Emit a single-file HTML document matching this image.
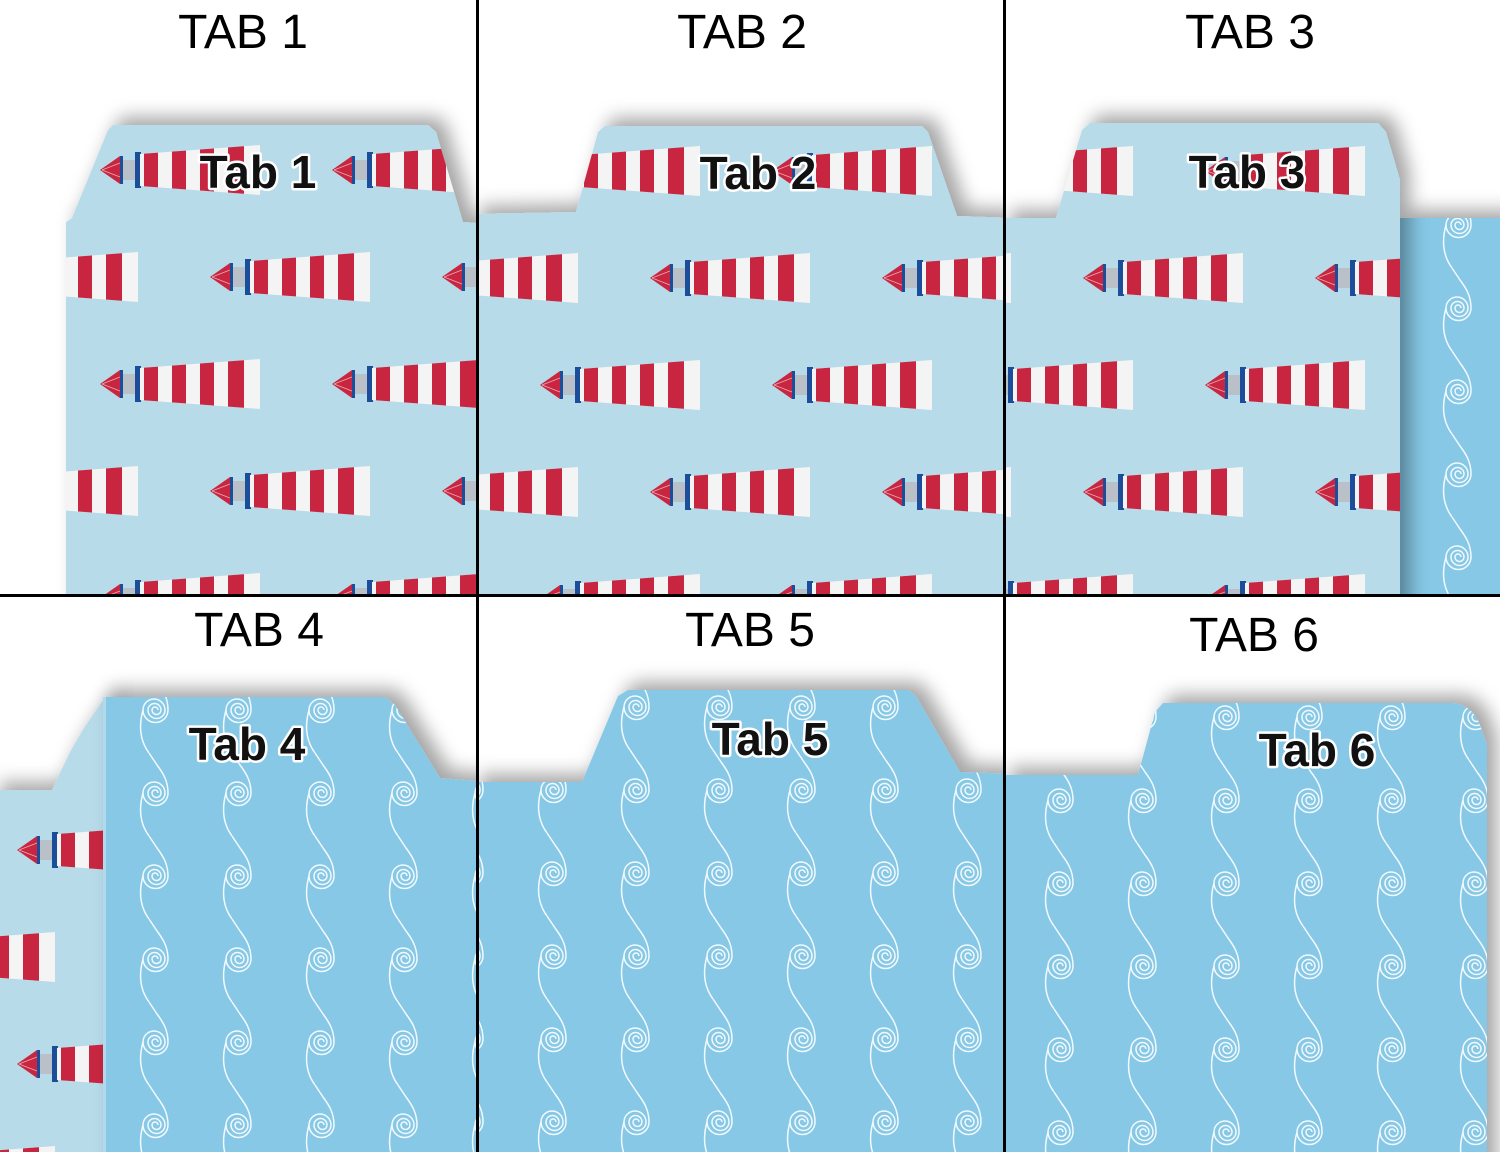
<!DOCTYPE html>
<html><head><meta charset="utf-8"><style>html,body{margin:0;padding:0;background:#fff}svg{display:block}</style></head><body>
<svg width="1500" height="1152" viewBox="0 0 1500 1152" xmlns="http://www.w3.org/2000/svg">
<defs>
<clipPath id="tw"><polygon points="40,-16 160,-25 160,25 40,16"/></clipPath>
<g id="lh">
 <polygon points="0,0 20,-14 20,14" fill="#c8283f"/>
 <line x1="2" y1="0" x2="20" y2="-7" stroke="#fff" stroke-width="0.8" opacity=".6"/>
 <line x1="2" y1="0" x2="20" y2="7" stroke="#fff" stroke-width="0.8" opacity=".6"/>
 <rect x="20" y="-14" width="3" height="28" fill="#1f4e9a"/>
 <rect x="23" y="-10" width="12" height="20" fill="#b9c0c8"/>
 <rect x="35" y="-18" width="6" height="36" fill="#1f4e9a"/>
 <g clip-path="url(#tw)">
  <rect x="40" y="-30" width="120" height="60" fill="#f4f4f4"/>
  <rect x="44" y="-30" width="14" height="60" fill="#c8283f"/>
  <rect x="72" y="-30" width="14" height="60" fill="#c8283f"/>
  <rect x="100" y="-30" width="14" height="60" fill="#c8283f"/>
  <rect x="128" y="-30" width="16" height="60" fill="#c8283f"/>
 </g>
</g>
<g id="lhtile">
 <rect width="232" height="214" fill="#b7dbe9"/>
 <use href="#lh" x="10" y="30"/>
 <use href="#lh" x="120" y="137"/>
 <use href="#lh" x="-112" y="137"/>
</g>
<pattern id="p1" patternUnits="userSpaceOnUse" width="232" height="214" x="90" y="140"><use href="#lhtile"/></pattern>
<pattern id="p2" patternUnits="userSpaceOnUse" width="232" height="214" x="530" y="355"><use href="#lhtile"/></pattern>
<pattern id="p3" patternUnits="userSpaceOnUse" width="232" height="214" x="1195" y="355"><use href="#lhtile"/></pattern>
<pattern id="p4" patternUnits="userSpaceOnUse" width="232" height="214" x="7" y="820"><use href="#lhtile"/></pattern>
<g id="wtile">
 <rect width="83" height="83" fill="#86c8e6"/>
 <g fill="none" stroke="#fff" stroke-width="1.5" opacity=".9">
  <path d="M23,40 A3,3 0 0 0 17,40 A4.5,4.5 0 0 0 26,40 A6.5,6.5 0 0 0 13,40 A8.5,8.5 0 0 0 30,40 A11,11 0 0 0 8,40 A12.5,12.5 0 0 0 33,40 C33,28 28,20 22,12 C18,6 16,3 14,0"/>
  <path d="M14,83 C6,72 3,58 8,40"/>
 </g>
</g>
<pattern id="w4" patternUnits="userSpaceOnUse" width="83" height="83" x="135" y="670"><use href="#wtile"/></pattern>
<pattern id="w5" patternUnits="userSpaceOnUse" width="83" height="83" x="533" y="750"><use href="#wtile"/></pattern>
<pattern id="w6" patternUnits="userSpaceOnUse" width="83" height="83" x="1040" y="760"><use href="#wtile"/></pattern>
<pattern id="w3" patternUnits="userSpaceOnUse" width="83" height="83" x="1438" y="185"><use href="#wtile"/></pattern>
<filter id="sh" x="-20%" y="-30%" width="140%" height="160%"><feDropShadow dx="10" dy="-8" stdDeviation="9" flood-color="#000" flood-opacity=".35"/></filter>
<clipPath id="c1"><rect x="0" y="0" width="477" height="596"/></clipPath>
<clipPath id="c2"><rect x="478" y="0" width="527" height="596"/></clipPath>
<clipPath id="c3"><rect x="1006" y="0" width="494" height="596"/></clipPath>
<clipPath id="c4"><rect x="0" y="597" width="477" height="555"/></clipPath>
<clipPath id="c5"><rect x="478" y="597" width="527" height="555"/></clipPath>
<clipPath id="c6"><rect x="1006" y="597" width="494" height="555"/></clipPath>
</defs>
<rect width="1500" height="1152" fill="#fff"/>

<g clip-path="url(#c1)">
 <path filter="url(#sh)" d="M66,222 L72,218 L108,130 L113,125 L428,125 L436,132 L463,222 L490,224 L490,700 L66,700 Z" fill="url(#p1)"/>
</g>
<g clip-path="url(#c2)">
 <path filter="url(#sh)" d="M470,214 L576,212 L598,132 L605,126 L922,126 L928,132 L957,216 L1015,218 L1015,700 L470,700 Z" fill="url(#p2)"/>
</g>
<g clip-path="url(#c3)">
 <path filter="url(#sh)" d="M1398,218 L1510,218 L1510,700 L1398,700 Z" fill="url(#w3)"/>
 <path filter="url(#sh)" d="M1000,218 L1056,218 L1082,130 L1090,123 L1378,123 L1386,132 L1400,180 L1400,700 L1000,700 Z" fill="url(#p3)"/>
</g>
<g clip-path="url(#c4)">
 <path filter="url(#sh)" d="M-10,790 L52,790 L70,752 L84,728 L103,700 L110,700 L110,1200 L-10,1200 Z" fill="url(#p4)"/>
 <path filter="url(#sh)" d="M103,697 L385,697 L395,705 L440,778 L490,782 L490,1200 L103,1200 Z" fill="url(#w4)"/>
 <rect x="103" y="697" width="3" height="460" fill="#cfe6f0" opacity=".6"/>
</g>
<g clip-path="url(#c5)">
 <path filter="url(#sh)" d="M470,782 L582,782 L618,696 L628,690 L908,690 L916,696 L960,772 L1015,774 L1015,1200 L470,1200 Z" fill="url(#w5)"/>
</g>
<g clip-path="url(#c6)">
 <path filter="url(#sh)" d="M1000,775 L1138,775 L1155,712 L1163,703 L1453,703 Q1472,705 1480,725 L1487,745 L1487,1200 L1000,1200 Z" fill="url(#w6)"/>
</g>

<g font-family="Liberation Sans, sans-serif" font-weight="bold" font-size="46" fill="#111" stroke="#fff" stroke-width="5" paint-order="stroke" stroke-linejoin="round" text-anchor="middle">
 <text x="258" y="188">Tab 1</text>
 <text x="758" y="189">Tab 2</text>
 <text x="1247" y="188">Tab 3</text>
 <text x="247" y="760">Tab 4</text>
 <text x="770" y="755">Tab 5</text>
 <text x="1317" y="766">Tab 6</text>
</g>

<g font-family="Liberation Sans, sans-serif" font-size="48" fill="#000" text-anchor="middle">
 <text x="243" y="48">TAB 1</text>
 <text x="742" y="48">TAB 2</text>
 <text x="1250" y="48">TAB 3</text>
 <text x="259" y="646">TAB 4</text>
 <text x="750" y="646">TAB 5</text>
 <text x="1254" y="651">TAB 6</text>
</g>

<rect x="476" y="0" width="3" height="1152" fill="#000"/>
<rect x="1003" y="0" width="3" height="1152" fill="#000"/>
<rect x="0" y="594" width="1500" height="3" fill="#000"/>
</svg>
</body></html>
